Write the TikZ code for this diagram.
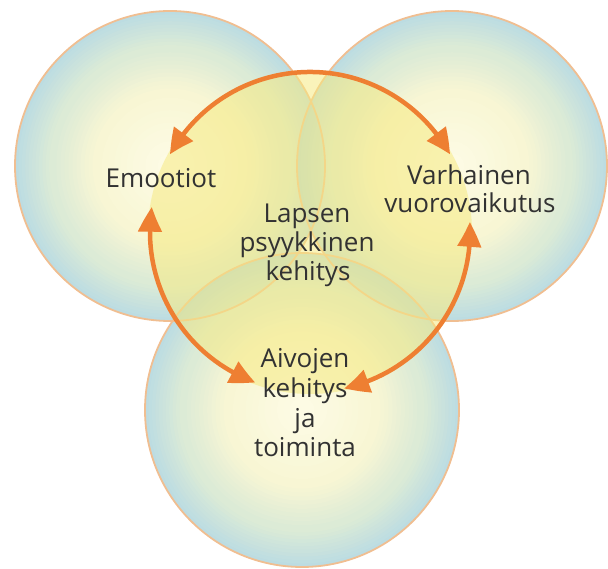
\documentclass[tikz,border=0pt]{standalone}
\usepackage{fontspec}
\setmainfont{Open Sans}
\usetikzlibrary{arrows.meta,bending}
\definecolor{cA}{RGB}{253,251,228}
\definecolor{cB}{RGB}{248,246,212}
\definecolor{cC}{RGB}{220,235,214}
\definecolor{cD}{RGB}{188,220,226}
\definecolor{rim}{RGB}{240,190,145}
\definecolor{arrowc}{RGB}{238,127,50}
\definecolor{glow}{RGB}{246,234,130}
\definecolor{txt}{RGB}{50,50,50}
\definecolor{tintc}{RGB}{120,190,190}
\newcommand\bubbleat[2]{%
  \foreach \k in {0,...,10}{\pgfmathsetmacro\rr{#2*(1-0.022*\k)}\pgfmathtruncatemacro\p{\k*10}\fill[cC!\p!cD] #1 circle[radius=\rr];}%
  \foreach \k in {0,...,10}{\pgfmathsetmacro\rr{#2*(0.76-0.026*\k)}\pgfmathtruncatemacro\p{\k*10}\fill[cB!\p!cC] #1 circle[radius=\rr];}%
  \foreach \k in {0,...,10}{\pgfmathsetmacro\rr{#2*(0.48-0.04*\k)}\pgfmathtruncatemacro\p{\k*10}\fill[cA!\p!cB] #1 circle[radius=\rr];}%
}
\begin{document}
\begin{tikzpicture}[x=1pt,y=1pt,
  rimline/.style={draw=rim,line width=1.8pt},
  tint/.style={fill=tintc,fill opacity=0.12},
  twoway/.style={draw=arrowc,line width=4.5pt,{Triangle[length=25pt,width=23pt,bend]}-{Triangle[length=25pt,width=23pt,bend]}},
  lbl/.style={text=txt,font=\fontsize{26}{30}\selectfont,inner sep=0pt,anchor=base}]
\useasboundingbox (0,0) rectangle (608,568);
\coordinate (L) at (170,402);
\coordinate (R) at (452,402);
\coordinate (B) at (302,158);
\coordinate (C) at (310,336);
% bubbles
\bubbleat{(L)}{155}
\bubbleat{(R)}{155}
\bubbleat{(B)}{157}
% overlaps
\begin{scope}
  \clip (L) circle[radius=155];
  \fill[tint] (R) circle[radius=155];
  \fill[tint] (B) circle[radius=157];
\end{scope}
\begin{scope}
  \clip (R) circle[radius=155];
  \fill[tint] (B) circle[radius=157];
\end{scope}
% rims
\draw[rimline] (L) circle[radius=155];
\draw[rimline] (R) circle[radius=155];
\draw[rimline] (B) circle[radius=157];
% central glow
\fill[glow,fill opacity=0.55] (C) circle[radius=162];
% arrows
\draw[twoway] ([shift={(151:160)}]C) arc[start angle=151,end angle=29,radius=160];
\draw[twoway] ([shift={(171:160)}]C) arc[start angle=171,end angle=250,radius=160];
\draw[twoway] ([shift={(3.6:160)}]C) arc[start angle=3.6,end angle=-77.7,radius=160];
% labels
\node[lbl] (emo) at (161,380) {Emootiot};
\node[lbl] (var1) at (469,383) {Varhainen};
\node[lbl] (var2) at (470,355) {vuorovaikutus};
\node[lbl] (lap1) at (307,345) {Lapsen};
\node[lbl] (lap2) at (307,316) {psyykkinen};
\node[lbl] (lap3) at (308,287) {kehitys};
\node[lbl] (aiv1) at (305,200) {Aivojen};
\node[lbl] (aiv2) at (305,170) {kehitys};
\node[lbl] (aiv3) at (305,140) {ja};
\node[lbl] (aiv4) at (305,111) {toiminta};
\end{tikzpicture}
\end{document}
